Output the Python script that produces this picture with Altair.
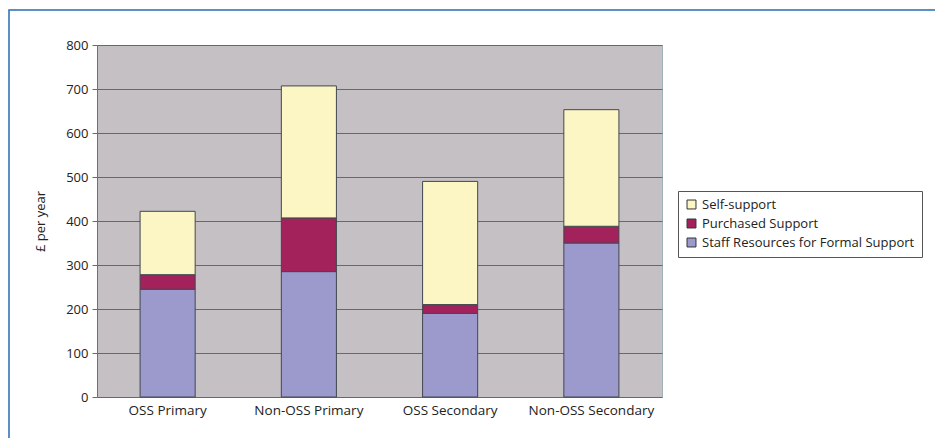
import altair as alt
import pandas as pd

categories = ["OSS Primary", "Non-OSS Primary", "OSS Secondary", "Non-OSS Secondary"]
series = ["Self-support", "Purchased Support", "Staff Resources for Formal Support"]
staff = [245, 285, 190, 350]
purchased = [33, 122, 20, 38]
self_support = [144, 300, 280, 265]
y_ticks = [0, 100, 200, 300, 400, 500, 600, 700, 800]
colors = ["#fcf5c4", "#a3225c", "#9c99cd"]

rows = []
for i, c in enumerate(categories):
    rows.append({"cat": c, "series": series[2], "value": staff[i], "ord": 0})
    rows.append({"cat": c, "series": series[1], "value": purchased[i], "ord": 1})
    rows.append({"cat": c, "series": series[0], "value": self_support[i], "ord": 2})
df = pd.DataFrame(rows)

FONT = "Open Sans"

bars = alt.Chart(df).mark_bar(stroke="#404850", strokeWidth=1).encode(
    x=alt.X("cat:N", sort=categories, title=None,
            scale=alt.Scale(paddingInner=0.61, paddingOuter=0.305),
            axis=alt.Axis(labelAngle=0, labelFontSize=13.5, labelFont=FONT, labelColor="#222",
                          ticks=False, domain=False, labelPadding=6, grid=False)),
    y=alt.Y("value:Q", stack="zero", title="£ per year",
            scale=alt.Scale(domain=[0, 800], nice=False),
            axis=alt.Axis(values=y_ticks, labelFontSize=13, labelFont=FONT, labelColor="#222",
                          titleFont=FONT, titleFontSize=13, titleFontWeight="normal",
                          titleColor="#222", titlePadding=18,
                          tickColor="#607070", tickSize=5, domainColor="#607878",
                          gridColor="#5a6e70", gridWidth=1.2, labelPadding=4)),
    color=alt.Color("series:N", sort=series,
                    scale=alt.Scale(domain=series, range=colors),
                    legend=alt.Legend(title=None, orient="none", legendX=581, legendY=146,
                                      symbolType="square", symbolSize=80,
                                      symbolStrokeColor="#333", symbolStrokeWidth=1,
                                      labelFont=FONT, labelFontSize=13, labelColor="#222",
                                      labelLimit=400,
                                      strokeColor="#555", padding=7, rowPadding=5,
                                      fillColor="white")),
    order=alt.Order("ord:Q", sort="ascending"),
)

border = alt.Chart(pd.DataFrame({"a": [0]})).mark_rect(
    fill=None, stroke="#2a6bb0", strokeWidth=1.5, clip=False
).encode(
    x=alt.value(-88), x2=alt.value(1000), y=alt.value(-35), y2=alt.value(600)
)

chart = alt.layer(border, bars).properties(
    width=565, height=352,
    autosize=alt.AutoSizeParams(type="none"),
    padding={"left": 89, "top": 37, "right": 273, "bottom": 41},
).configure_view(
    fill="#c4c0c4", stroke="#9fb0b8", strokeWidth=1
)

chart.save("out.html", embed_options={"renderer": "svg", "actions": False})
